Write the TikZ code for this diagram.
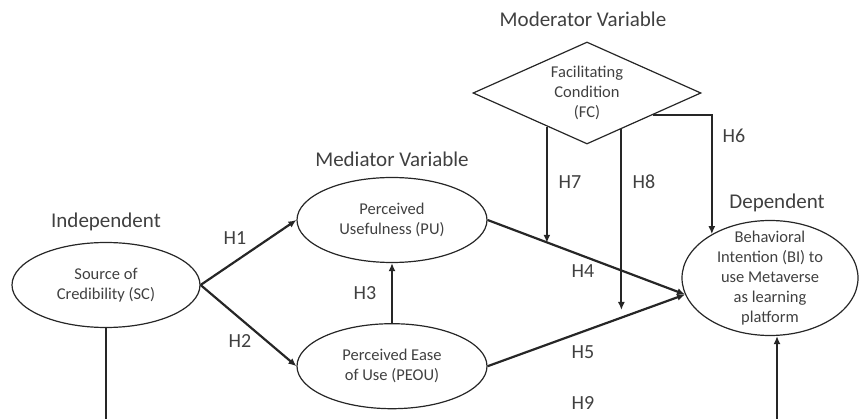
\documentclass[tikz,border=0pt]{standalone}
\usepackage{fontspec}
\setmainfont{Carlito}
\usetikzlibrary{shapes.geometric,positioning,calc,arrows.meta}

\definecolor{linegray}{HTML}{262626}
\definecolor{textgray}{HTML}{404040}

\tikzset{
    construct/.style={ellipse, draw=linegray, line width=1.2pt, inner sep=0pt,
        text=textgray, align=center, font=\fontsize{16.5}{20}\selectfont},
    moderator/.style={diamond, draw=linegray, line width=1.2pt, inner sep=0pt,
        aspect=2.235, minimum width=228pt, minimum height=102pt,
        text=textgray, align=center, font=\fontsize{16.5}{20}\selectfont},
    heading/.style={inner sep=0pt, text=textgray, font=\fontsize{21}{24}\selectfont},
    hyp/.style={inner sep=0pt, text=textgray, font=\fontsize{20}{24}\selectfont},
    connector/.style={draw=linegray, line width=2.2pt},
    hyparrow/.style={connector, -{Latex[length=8pt,width=7pt]}},
}

\begin{document}
\begin{tikzpicture}[x=1pt,y=-1pt]
\useasboundingbox (0,0) rectangle (859,419);

\node[construct, minimum width=188pt, minimum height=85pt] (sc) at (106,285) {Source of\\Credibility (SC)} ;
\node[construct, minimum width=190pt, minimum height=85pt] (pu) at (392,220) {Perceived\\Usefulness (PU)} ;
\node[construct, minimum width=190pt, minimum height=85pt] (peou) [below=60pt of pu] {Perceived Ease\\of Use (PEOU)} ;
\node[moderator] (fc) at (587,93) {Facilitating\\Condition\\(FC)} ;
\node[construct, inner ysep=-12pt, minimum width=176pt, minimum height=115pt] (bi) at (770,278) {Behavioral\\Intention (BI) to\\use Metaverse\\as learning\\platform} ;

\node[heading] (lindep) [above=11pt of sc] {Independent} ;
\node[heading] (lmed) [above=10pt of pu] {Mediator Variable} ;
\node[heading] (lmod) [above=15pt of fc, xshift=-4pt] {Moderator Variable} ;
\node[heading] (ldep) [above=8pt of bi, xshift=7pt] {Dependent} ;

\node[hyp] (h1) at (235,238) {H1} ;
\node[hyp] (h2) at (240,341) {H2} ;
\node[hyp] (h3) at (365,293) {H3} ;
\node[hyp] (h4) at (583,271) {H4} ;
\node[hyp] (h5) at (583,352) {H5} ;
\node[hyp] (h6) at (734,136) {H6} ;
\node[hyp] (h7) at (570,182) {H7} ;
\node[hyp] (h8) at (644,182) {H8} ;
\node[hyp] (h9) at (583,403) {H9} ;

\coordinate (bin) at (bi.191);
\coordinate (bottom) at (0,419);
\coordinate (h7top) at ($(fc.west)!0.65!(fc.south)$);
\coordinate (h7bot) at ($(pu.east)!0.306!(bin)$);
\coordinate (h8top) at ($(fc.south)!0.3!(fc.east)$);
\coordinate (h8end) at (621,310);
\coordinate (h6top) at ($(fc.south)!0.58!(fc.east)$);
\coordinate (h9b) at (777,419);

\draw[hyparrow] (sc.east) -- (pu.west);
\draw[hyparrow] (sc.east) -- (peou.west);
\draw[hyparrow] (peou) -- (pu);
\draw[hyparrow] (pu.east) -- (bin);
\draw[hyparrow] (peou.east) -- (bin);

\draw[hyparrow] (h7top) -- (h7top |- h7bot);
\draw[hyparrow] (h8top) -- (h8top |- h8end);
\draw[hyparrow] (h6top) -| (bi.143);

\draw[connector] (sc.south) -- (sc.south |- bottom);
\draw[hyparrow] (h9b) -- (h9b |- bi.south);

\end{tikzpicture}
\end{document}
